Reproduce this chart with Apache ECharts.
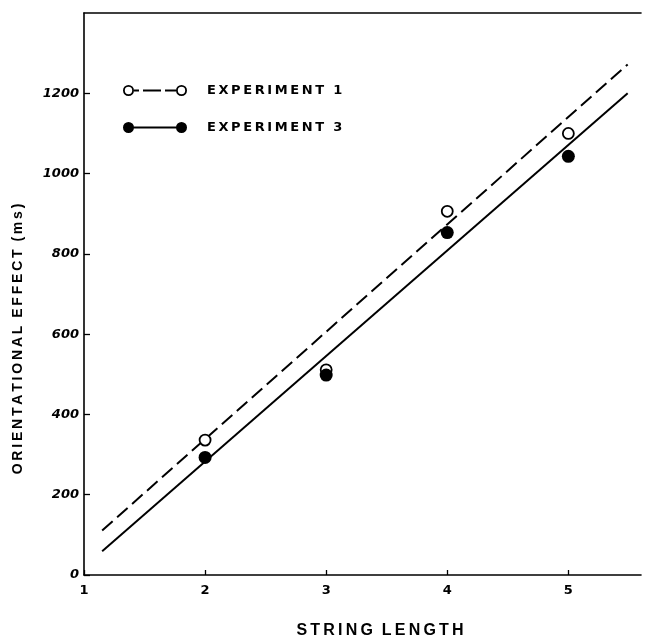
<!DOCTYPE html>
<html>
<head>
<meta charset="utf-8">
<script src="https://cdn.jsdelivr.net/npm/echarts@6/dist/echarts.min.js"></script>
<style>
html,body{margin:0;padding:0;background:#fff;}
#chart{width:645px;height:639px;}
</style>
</head>
<body>
<div id="chart"></div>
<script>
// ---- data ----
const stringLength = [2, 3, 4, 5];
const experiment1 = [336, 511, 906, 1100];
const experiment3 = [293, 498, 853, 1043];
// fitted lines (end points)
const fitX = [1.15, 5.49];
const fit1 = [111, 1272];
const fit3 = [59, 1200];
// tick labels
const xTicks = [1, 2, 3, 4, 5];
const yTicks = [0, 200, 400, 600, 800, 1000, 1200];

const TS = '\u2009';
function spaced(s) {
  return s.split(' ').map(w => w.split('').join(TS)).join('  ');
}
const INK = '#000';

const exp1Icon = 'path://M0,5.5 A5.5,5.5 0 1,1 11,5.5 A5.5,5.5 0 1,1 0,5.5 Z ' +
  'M1.8,5.5 A3.7,3.7 0 1,0 9.2,5.5 A3.7,3.7 0 1,0 1.8,5.5 Z ' +
  'M11,4.5 L16,4.5 L16,6.5 L11,6.5 Z ' +
  'M20,4.5 L38,4.5 L38,6.5 L20,6.5 Z ' +
  'M42,4.5 L53,4.5 L53,6.5 L42,6.5 Z ' +
  'M53,5.5 A5.5,5.5 0 1,1 64,5.5 A5.5,5.5 0 1,1 53,5.5 Z ' +
  'M54.8,5.5 A3.7,3.7 0 1,0 62.2,5.5 A3.7,3.7 0 1,0 54.8,5.5 Z';
const exp3Icon = 'path://M0,5.5 A5.5,5.5 0 1,1 11,5.5 A5.5,5.5 0 1,1 0,5.5 Z ' +
  'M10,4.4 L54,4.4 L54,6.6 L10,6.6 Z ' +
  'M53,5.5 A5.5,5.5 0 1,1 64,5.5 A5.5,5.5 0 1,1 53,5.5 Z';

const chart = echarts.init(document.getElementById('chart'), null, {renderer: 'canvas'});
const option = {
  backgroundColor: '#fff',
  animation: false,
  grid: {left: 84, right: 4, top: 13, bottom: 64, containLabel: false},
  xAxis: [{
    type: 'value', min: 1, max: 5.6, interval: 1,
    axisLine: {show: true, lineStyle: {color: INK, width: 1.6}},
    axisTick: {show: true, inside: true, length: 5, customValues: xTicks, lineStyle: {color: INK, width: 1.3}},
    axisLabel: {customValues: xTicks, color: INK, margin: 9,
      fontFamily: 'DejaVu Sans', fontWeight: 'bold', fontSize: 13},
    splitLine: {show: false}
  }, {
    type: 'value', min: 1, max: 5.6, position: 'top',
    axisLine: {show: true, onZero: false, lineStyle: {color: INK, width: 1.6}},
    axisTick: {show: false}, axisLabel: {show: false}, splitLine: {show: false}
  }],
  yAxis: {
    type: 'value', min: 0, max: 1400, interval: 200,
    axisLine: {show: true, lineStyle: {color: INK, width: 1.6}},
    axisTick: {show: true, inside: true, length: 6, customValues: yTicks, lineStyle: {color: INK, width: 1.3}},
    axisLabel: {customValues: yTicks, color: INK, margin: 5, formatter: v => String(v),
      fontFamily: 'DejaVu Sans', fontStyle: 'italic', fontWeight: 'bold', fontSize: 13},
    splitLine: {show: false}
  },
  legend: {
    orient: 'vertical', left: 123, top: 84, padding: 0,
    itemWidth: 64, itemHeight: 11, itemGap: 24,
    selectedMode: false,
    formatter: name => spaced(name),
    textStyle: {color: INK, fontFamily: 'DejaVu Sans', fontWeight: 'bold', fontSize: 13, padding: [0, 0, 0, 15]},
    data: [
      {name: 'EXPERIMENT 1', icon: exp1Icon, itemStyle: {color: INK, borderWidth: 0, opacity: 1}},
      {name: 'EXPERIMENT 3', icon: exp3Icon, itemStyle: {color: INK, borderWidth: 0, opacity: 1}}
    ]
  },
  graphic: [
    {type: 'text', x: 18, y: 339, rotation: Math.PI / 2,
      style: {text: spaced('ORIENTATIONAL EFFECT (ms)'), align: 'center', verticalAlign: 'middle',
        fill: INK, font: 'bold 14px "Liberation Sans"'}},
    {type: 'text', x: 380, y: 631,
      style: {text: spaced('STRING LENGTH'), align: 'center', verticalAlign: 'middle',
        fill: INK, font: 'bold 16px "Liberation Sans"'}}
  ],
  series: [
    {name: 'fit1', type: 'line', data: fitX.map((x, i) => [x, fit1[i]]),
      symbol: 'none', lineStyle: {color: INK, width: 2, type: [14, 6]}, silent: true, z: 2},
    {name: 'fit3', type: 'line', data: fitX.map((x, i) => [x, fit3[i]]),
      symbol: 'none', lineStyle: {color: INK, width: 2}, silent: true, z: 2},
    {name: 'EXPERIMENT 1', type: 'scatter', data: stringLength.map((x, i) => [x, experiment1[i]]),
      symbol: 'circle', symbolSize: 11,
      itemStyle: {color: '#fff', borderColor: INK, borderWidth: 1.8, opacity: 1}, z: 3},
    {name: 'EXPERIMENT 3', type: 'scatter', data: stringLength.map((x, i) => [x, experiment3[i]]),
      symbol: 'circle', symbolSize: 13,
      itemStyle: {color: INK, opacity: 1}, z: 4}
  ]
};
chart.setOption(option);
</script>
</body>
</html>
